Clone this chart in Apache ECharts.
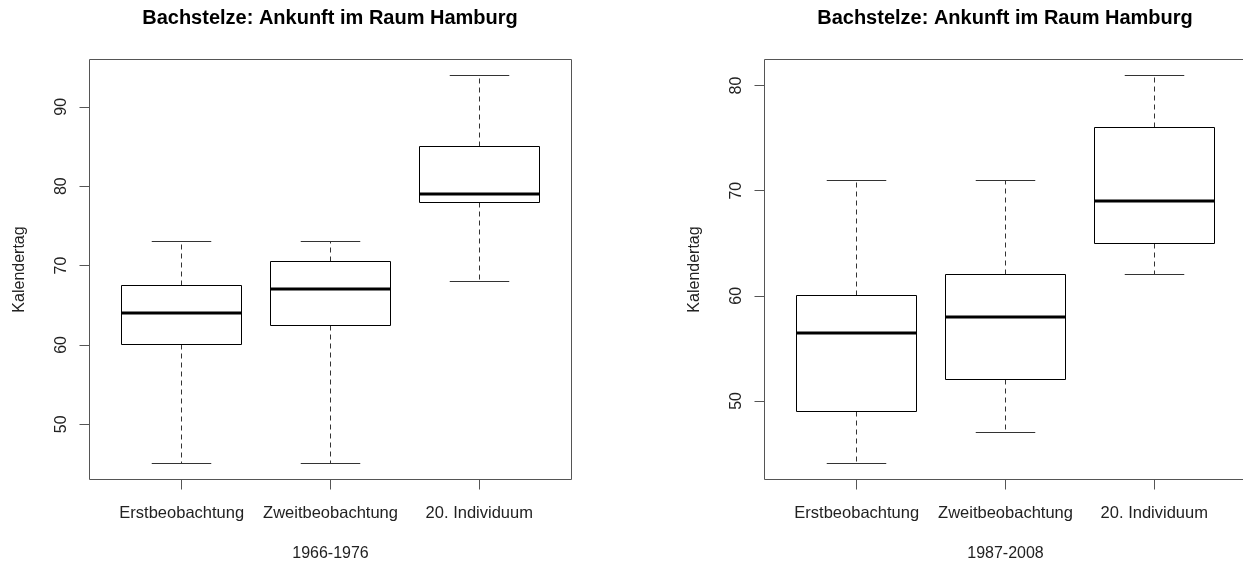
<!DOCTYPE html>
<html>
<head>
<meta charset="utf-8">
<script src="https://cdn.jsdelivr.net/npm/echarts@6/dist/echarts.min.js"></script>
<style>
html,body{margin:0;padding:0;background:#fff;}
#c{width:1243px;height:567px;}
</style>
</head>
<body>
<div id="c"></div>
<script>
// ---- data ----
const chartTitle = 'Bachstelze: Ankunft im Raum Hamburg';
const yAxisTitle = 'Kalendertag';
const categories = ['Erstbeobachtung', 'Zweitbeobachtung', '20. Individuum'];
const categoryPos = [1, 2, 3];

const period1 = '1966-1976';
const min1 = [45, 45, 68];
const q1_1 = [60, 62.5, 78];
const med1 = [64, 67, 79];
const q3_1 = [67.5, 70.5, 85];
const max1 = [73, 73, 94];
const yTicks1 = [50, 60, 70, 80, 90];

const period2 = '1987-2008';
const min2 = [44, 47, 62];
const q1_2 = [49, 52, 65];
const med2 = [56.5, 58, 69];
const q3_2 = [60, 62, 76];
const max2 = [71, 71, 81];
const yTicks2 = [50, 60, 70, 80];

// ---- helpers ----
function rows(mins, q1s, meds, q3s, maxs) {
  return categoryPos.map((x, i) => [x, mins[i], q1s[i], meds[i], q3s[i], maxs[i]]);
}
function yRange(mins, maxs) {
  const lo = Math.min(...mins), hi = Math.max(...maxs);
  const d = (hi - lo) * 0.04;
  return [lo - d, hi + d];
}
const xLo = 0.5 - 0.12, xHi = 3.5 + 0.12;

const crisp = v => Math.round(v - 0.5) + 0.5;

function renderBox(params, api) {
  const x = api.value(0);
  const vMin = api.value(1), vQ1 = api.value(2), vMed = api.value(3), vQ3 = api.value(4), vMax = api.value(5);
  const c = api.coord([x, vMed]);
  const cx = crisp(c[0]);
  const boxW = api.size([0.8, 0])[0];
  const capW = api.size([0.4, 0])[0];
  const y = v => crisp(api.coord([x, v])[1]);
  const yMin = y(vMin), yQ1 = y(vQ1), yMed = api.coord([x, vMed])[1], yQ3 = y(vQ3), yMax = y(vMax);
  const bl = crisp(cx - boxW / 2), br = crisp(cx + boxW / 2);
  const whisk = {stroke: '#333', lineWidth: 1, lineDash: [5, 4]};
  const solid = {stroke: '#333', lineWidth: 1};
  return {
    type: 'group',
    children: [
      {type: 'line', shape: {x1: cx, y1: yQ3, x2: cx, y2: yMax}, style: whisk},
      {type: 'line', shape: {x1: cx, y1: yQ1, x2: cx, y2: yMin}, style: whisk},
      {type: 'line', shape: {x1: cx - capW / 2, y1: yMax, x2: cx + capW / 2, y2: yMax}, style: solid},
      {type: 'line', shape: {x1: cx - capW / 2, y1: yMin, x2: cx + capW / 2, y2: yMin}, style: solid},
      {type: 'rect', shape: {x: bl, y: yQ3, width: br - bl, height: yQ1 - yQ3},
        style: {fill: '#fff', stroke: '#000', lineWidth: 1}},
      {type: 'line', shape: {x1: bl, y1: Math.round(yMed), x2: br, y2: Math.round(yMed)},
        style: {stroke: '#000', lineWidth: 3}}
    ]
  };
}

const r1 = yRange(min1, max1);
const r2 = yRange(min2, max2);

const font = '"Liberation Sans", Arial, sans-serif';
const textCol = '#222';
const axisCol = '#555';

function xAxisCfg(gridIndex, name) {
  return {
    type: 'value', gridIndex, min: xLo, max: xHi,
    name, nameLocation: 'middle', nameGap: 66,
    nameTextStyle: {fontFamily: font, fontSize: 16, color: textCol},
    axisLine: {show: false},
    splitLine: {show: false},
    axisTick: {show: true, length: 10, customValues: categoryPos, lineStyle: {color: axisCol}},
    axisLabel: {show: true, customValues: categoryPos, margin: 25, fontFamily: font, fontSize: 16.5, color: textCol,
      formatter: v => categories[Math.round(v) - 1] || ''}
  };
}
function yAxisCfg(gridIndex, range, ticks) {
  return {
    type: 'value', gridIndex, min: range[0], max: range[1],
    name: yAxisTitle, nameLocation: 'middle', nameGap: 62,
    nameTextStyle: {fontFamily: font, fontSize: 16, color: textCol},
    axisLine: {show: false},
    splitLine: {show: false},
    axisTick: {show: true, length: 10, customValues: ticks, lineStyle: {color: axisCol}},
    axisLabel: {show: true, customValues: ticks, rotate: 90, margin: 20, fontFamily: font, fontSize: 16, color: textCol}
  };
}

const chart = echarts.init(document.getElementById('c'), null, {renderer: 'canvas'});
chart.setOption({
  animation: false,
  backgroundColor: '#fff',
  title: [
    {text: chartTitle, left: 330, top: 8, textAlign: 'center', padding: 0,
      textStyle: {fontFamily: font, fontSize: 20, fontWeight: 'bold', color: '#000'}},
    {text: chartTitle, left: 1005, top: 8, textAlign: 'center', padding: 0,
      textStyle: {fontFamily: font, fontSize: 20, fontWeight: 'bold', color: '#000'}}
  ],
  grid: [
    {left: 89.5, top: 59.5, width: 482, height: 420, show: true, borderColor: axisCol, borderWidth: 1,
      backgroundColor: 'transparent', containLabel: false, outerBoundsMode: 'none'},
    {left: 764.5, top: 59.5, width: 482, height: 420, show: true, borderColor: axisCol, borderWidth: 1,
      backgroundColor: 'transparent', containLabel: false, outerBoundsMode: 'none'}
  ],
  xAxis: [xAxisCfg(0, period1), xAxisCfg(1, period2)],
  yAxis: [yAxisCfg(0, r1, yTicks1), yAxisCfg(1, r2, yTicks2)],
  series: [
    {type: 'custom', xAxisIndex: 0, yAxisIndex: 0, renderItem: renderBox,
      data: rows(min1, q1_1, med1, q3_1, max1), encode: {x: 0, y: [1, 2, 3, 4, 5]}},
    {type: 'custom', xAxisIndex: 1, yAxisIndex: 1, renderItem: renderBox,
      data: rows(min2, q1_2, med2, q3_2, max2), encode: {x: 0, y: [1, 2, 3, 4, 5]}}
  ]
});
</script>
</body>
</html>
